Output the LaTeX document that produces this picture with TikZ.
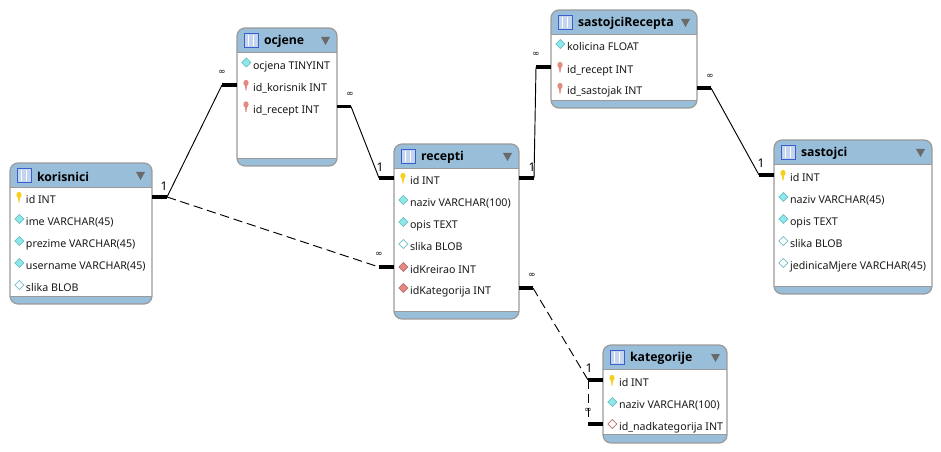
\documentclass[tikz,border=0pt]{standalone}
\usepackage{fontspec}
\setmainfont{Noto Sans}
\newfontfamily\symfont{DejaVu Sans}
\newfontfamily\titlefont{Open Sans}
\definecolor{headblue}{HTML}{98BEDA}
\definecolor{frameg}{HTML}{9A9A9A}
\definecolor{tricol}{HTML}{6A6A6A}
\definecolor{cya}{HTML}{8FE8E8}
\definecolor{cyaline}{HTML}{6FBFC8}
\definecolor{redd}{HTML}{E58A80}
\definecolor{reddline}{HTML}{B87070}
\definecolor{iconb}{HTML}{3A5FCD}
\definecolor{iconf}{HTML}{C3D5EE}
\definecolor{keyy}{HTML}{F5D020}
\tikzset{
  x=0.75pt,y=-0.75pt,
  tableframe/.style={draw=frameg,line width=0.9pt,rounded corners=6pt,inner sep=0pt,outer sep=0pt},
  rowtext/.style={anchor=west,inner sep=0pt,outer sep=0pt,text height=10pt,text depth=0pt,font=\fontsize{8}{9}\selectfont,text=black!90},
  titletext/.style={anchor=west,inner sep=0pt,outer sep=0pt,font=\titlefont\bfseries\fontsize{9.2}{11}\selectfont,text=black},
  stub/.style={line width=2.3pt,line cap=butt},
  thinrel/.style={line width=0.7pt,line join=miter},
  dashrel/.style={line width=0.7pt,dash pattern=on 7pt off 3.5pt},
  onelabel/.style={inner sep=0pt,font=\fontsize{9}{10}\selectfont},
  manylabel/.style={inner sep=0pt,font=\symfont\fontsize{6.5}{7}\selectfont},
  pk/.style={fill=keyy},
  fk/.style={fill=redd},
  coln/.style={fill=cya,draw=cyaline,line width=0.5pt},
  colnull/.style={fill=white,draw=cyaline,line width=0.5pt},
  colfk/.style={fill=redd,draw=reddline,line width=0.5pt},
  colfknull/.style={fill=white,draw=reddline,line width=0.5pt},
}
% #1 name, #2 x, #3 y, #4 w, #5 h, #6 header height, #7 footer height, #8 title
\newcommand{\erbox}[8]{%
  \begin{scope}
    \clip[rounded corners=6pt] (#2,#3) rectangle ++(#4,#5);
    \fill[white] (#2,#3) rectangle ++(#4,#5);
    \fill[headblue] (#2,#3) rectangle ++(#4,#6);
    \fill[headblue] ({#2},{#3+#5-#7}) rectangle ++(#4,#7);
  \end{scope}
  \draw[frameg,line width=0.7pt] (#2,{#3+#6}) -- ++(#4,0);
  \draw[frameg,line width=0.7pt] (#2,{#3+#5-#7}) -- ++(#4,0);
  \node[tableframe,minimum width=#4*0.75pt,minimum height=#5*0.75pt] (#1) at ({#2+#4/2},{#3+#5/2}) {};
  \fill[iconf] ({#2+7},{#3+5}) rectangle ++(14,14);
  \draw[iconb,line width=0.6pt] ({#2+7},{#3+5}) rectangle ++(14,14);
  \draw[iconb,line width=1.2pt] ({#2+7},{#3+5.5}) -- ++(14,0);
  \draw[white,line width=0.6pt] ({#2+11.5},{#3+7}) -- ++(0,11) ({#2+16},{#3+7}) -- ++(0,11);
  \fill[tricol] ({#2+#4-16},{#3+9}) -- ++(9,0) -- ++(-4.5,8) -- cycle;
  \node[titletext] (#1-title) at ({#2+27},{#3+13.5}) {#8};
}
% #1 name, #2 table x, #3 row y, #4 text
\newcommand{\errowtext}[4]{\node[rowtext] (#1) at ({#2+16},#3) {#4};}
\newcommand{\dcol}[5]{% name, x, y, style, text
  \draw[#4] ({#2+4.8},#3) -- ++(4.5,-4.5) -- ++(4.5,4.5) -- ++(-4.5,4.5) -- cycle;
  \errowtext{#1}{#2}{#3}{#5}}
\newcommand{\kcol}[5]{% name, x, y, style, text
  \fill[#4] ({#2+8},{#3-1}) -- ({#2+8.4},{#3+5.5}) -- ({#2+9.6},{#3+5.5}) -- ({#2+10},{#3-1}) -- cycle;
  \fill[#4] ({#2+9},{#3-2}) ellipse (2.6 and 3.2);
  \errowtext{#1}{#2}{#3}{#5}}
\begin{document}
\begin{tikzpicture}
\useasboundingbox (0,0) rectangle (941,452);
\fill[white] (0,0) rectangle (941,452);

\erbox{kor}{10}{163}{142}{141}{24}{8}{korisnici}
\kcol{kor-id}{10}{197}{pk}{id INT}
\dcol{kor-ime}{10}{219}{coln}{ime VARCHAR(45)}
\dcol{kor-prezime}{10}{241}{coln}{prezime VARCHAR(45)}
\dcol{kor-username}{10}{263}{coln}{username VARCHAR(45)}
\dcol{kor-slika}{10}{285}{colnull}{slika BLOB}

\erbox{ocj}{237}{28}{100}{138}{24}{8}{ocjene}
\dcol{ocj-ocjena}{237}{62.5}{coln}{ocjena TINYINT}
\kcol{ocj-kor}{237}{85}{fk}{id\_korisnik INT}
\kcol{ocj-rec}{237}{106.5}{fk}{id\_recept INT}

\erbox{rec}{394}{144}{125}{175}{24}{8}{recepti}
\kcol{rec-id}{394}{178}{pk}{id INT}
\dcol{rec-naziv}{394}{200}{coln}{naziv VARCHAR(100)}
\dcol{rec-opis}{394}{222}{coln}{opis TEXT}
\dcol{rec-slika}{394}{244}{colnull}{slika BLOB}
\dcol{rec-kre}{394}{267}{colfk}{idKreirao INT}
\dcol{rec-kat}{394}{288}{colfk}{idKategorija INT}

\erbox{sr}{551}{10}{146}{98}{24}{8}{sastojciRecepta}
\dcol{sr-kol}{551}{44}{coln}{kolicina FLOAT}
\kcol{sr-rec}{551}{67}{fk}{id\_recept INT}
\kcol{sr-sas}{551}{88}{fk}{id\_sastojak INT}

\erbox{sas}{774}{140}{158}{154}{24}{8}{sastojci}
\kcol{sas-id}{774}{175}{pk}{id INT}
\dcol{sas-naziv}{774}{197}{coln}{naziv VARCHAR(45)}
\dcol{sas-opis}{774}{219}{coln}{opis TEXT}
\dcol{sas-slika}{774}{241}{colnull}{slika BLOB}
\dcol{sas-jed}{774}{263}{colnull}{jedinicaMjere VARCHAR(45)}

\erbox{kat}{603}{345}{124}{98}{24}{9}{kategorije}
\kcol{kat-id}{603}{380}{pk}{id INT}
\dcol{kat-naziv}{603}{402}{coln}{naziv VARCHAR(100)}
\dcol{kat-nad}{603}{424}{colfknull}{id\_nadkategorija INT}

% korisnici -- ocjene
\coordinate (a1) at ([xshift=15*0.75pt]kor.east |- kor-id);
\coordinate (a2) at ([xshift=-15*0.75pt]ocj.west |- ocj-kor);
\draw[stub] (kor.east |- kor-id) -- (a1);
\draw[thinrel] (a1) -- (a2);
\draw[stub] (a2) -- (ocj.west |- ocj-kor);
% korisnici -- recepti
\coordinate (b2) at ([xshift=-15*0.75pt]rec.west |- rec-kre);
\draw[dashrel] (a1) -- (b2);
\draw[stub] (b2) -- (rec.west |- rec-kre);
% ocjene -- recepti
\coordinate (c1) at ([xshift=14*0.75pt]ocj.east |- ocj-rec);
\coordinate (c2) at ([xshift=-15*0.75pt]rec.west |- rec-id);
\draw[stub] (ocj.east |- ocj-rec) -- (c1);
\draw[thinrel] (c1) -- (c2);
\draw[stub] (c2) -- (rec.west |- rec-id);
% recepti -- sastojciRecepta
\coordinate (d1) at ([xshift=15*0.75pt]rec.east |- rec-id);
\coordinate (d2) at ([xshift=-15*0.75pt]sr.west |- sr-rec);
\draw[stub] (rec.east |- rec-id) -- (d1);
\draw[thinrel] (d1) -- (d2);
\draw[stub] (d2) -- (sr.west |- sr-rec);
% sastojciRecepta -- sastojci
\coordinate (e1) at ([xshift=14*0.75pt]sr.east |- sr-sas);
\coordinate (e2) at ([xshift=-15*0.75pt]sas.west |- sas-id);
\draw[stub] (sr.east |- sr-sas) -- (e1);
\draw[thinrel] (e1) -- (e2);
\draw[stub] (e2) -- (sas.west |- sas-id);
% recepti -- kategorije
\coordinate (f1) at ([xshift=14*0.75pt]rec.east |- rec-kat);
\coordinate (f2) at ([xshift=-15*0.75pt]kat.west |- kat-id);
\draw[stub] (rec.east |- rec-kat) -- (f1);
\draw[dashrel] (f1) -- (f2);
\draw[stub] (f2) -- (kat.west |- kat-id);
% kategorije -- kategorije
\coordinate (g2) at ([xshift=-15*0.75pt]kat.west |- kat-nad);
\draw[dashrel] (f2) -- (g2);
\draw[stub] (g2) -- (kat.west |- kat-nad);

\node[onelabel] (l1) at (164,186) {1};
\node[manylabel] (m1) at (222,72) {∞};
\node[manylabel] (m2) at (379,254) {∞};
\node[manylabel] (m3) at (350,94) {∞};
\node[onelabel] (l3) at (380,167) {1};
\node[onelabel] (l4) at (532,167) {1};
\node[manylabel] (m4) at (536,54) {∞};
\node[manylabel] (m5) at (710,76) {∞};
\node[onelabel] (l5) at (761,163) {1};
\node[manylabel] (m6) at (532,275) {∞};
\node[onelabel] (l6) at (589,368) {1};
\node[manylabel] (m7) at (588,410) {∞};
\end{tikzpicture}
\end{document}
